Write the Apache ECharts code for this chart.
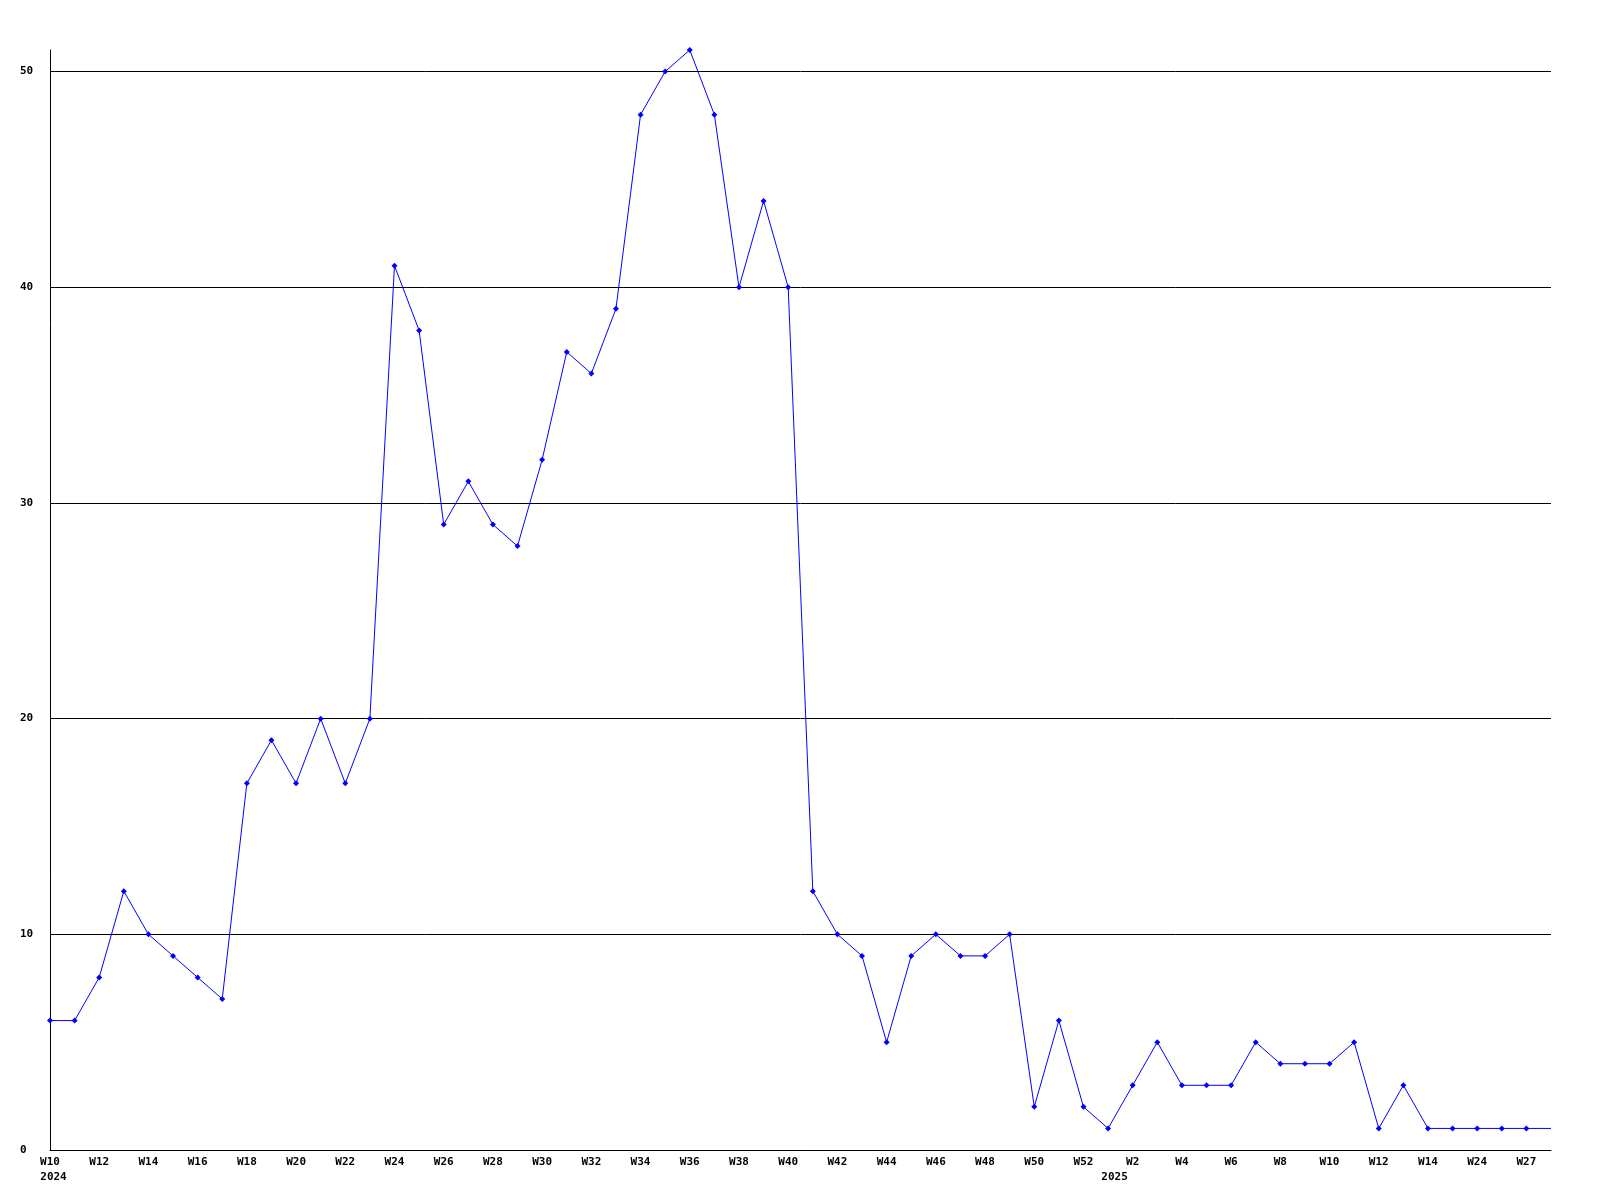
<!DOCTYPE html>
<html>
<head>
<meta charset="utf-8">
<script src="https://cdn.jsdelivr.net/npm/echarts@6/dist/echarts.min.js"></script>
<style>html,body{margin:0;padding:0;background:#fff}#c{width:1600px;height:1200px}</style>
</head>
<body>
<div id="c"></div>
<script>
const weeks = [
  'W10','W11','W12','W13','W14','W15','W16','W17','W18','W19','W20','W21','W22','W23','W24','W25',
  'W26','W27','W28','W29','W30','W31','W32','W33','W34','W35','W36','W37','W38','W39','W40','W41',
  'W42','W43','W44','W45','W46','W47','W48','W49','W50','W51','W52',
  'W1','W2','W3','W4','W5','W6','W7','W8','W9','W10','W11','W12','W13','W14',
  'W15','W24','W25','W27','W28'
];
const years = {0: '2024', 43: '2025'};
const values = [
  6,6,8,12,10,9,8,7,17,19,17,20,17,20,41,38,
  29,31,29,28,32,37,36,39,48,50,51,48,40,44,40,12,
  10,9,5,9,10,9,9,10,2,6,2,
  1,3,5,3,3,3,5,4,4,4,5,1,3,1,
  1,1,1,1,1
];
const yTicks = [0,10,20,30,40,50];

const seriesData = values.map((v, i) => i === values.length - 1 ? {value: v, symbol: 'none'} : v);
const font = '"DejaVu Sans Mono", monospace';

const chart = echarts.init(document.getElementById('c'));
chart.setOption({
  animation: false,
  backgroundColor: '#fff',
  grid: {left: 50, right: 49, top: 50, bottom: 50, containLabel: false},
  xAxis: {
    type: 'category',
    data: weeks,
    boundaryGap: false,
    axisLine: {show: true, lineStyle: {color: '#000', width: 1}},
    axisTick: {show: false},
    splitLine: {show: false},
    axisLabel: {
      interval: 0,
      margin: 5,
      color: '#000',
      fontFamily: font,
      fontWeight: 'bold',
      fontSize: 11,
      lineHeight: 15,
      formatter: function (val, idx) {
        const showWeek = idx % 2 === 0;
        const y = years[idx];
        if (!showWeek && !y) return '';
        if (!y) return '{w|' + val + '}';
        const wk = showWeek ? '{w|' + val + '}' : '{h|' + val + '}';
        const sty = val.length === 3 ? 'y3' : 'y2';
        return wk + '\n{' + sty + '|' + y + '}';
      },
      rich: {
        w: {fontFamily: font, fontWeight: 'bold', fontSize: 11, color: '#000', lineHeight: 15, align: 'center'},
        h: {fontFamily: font, fontWeight: 'bold', fontSize: 11, color: 'rgba(0,0,0,0)', lineHeight: 15, align: 'center'},
        y3: {fontFamily: font, fontWeight: 'bold', fontSize: 11, color: '#000', lineHeight: 15, align: 'left', padding: [0, 0, 0, 7]},
        y2: {fontFamily: font, fontWeight: 'bold', fontSize: 11, color: '#000', lineHeight: 15, align: 'left', padding: [0, 0, 0, 13]}
      }
    }
  },
  yAxis: {
    type: 'value',
    min: 0,
    max: 51,
    interval: 10,
    axisLine: {show: true, lineStyle: {color: '#000', width: 1}},
    axisTick: {show: false, customValues: yTicks},
    splitLine: {show: true, lineStyle: {color: '#000', width: 1}},
    axisLabel: {
      customValues: yTicks,
      margin: 30,
      align: 'left',
      color: '#000',
      fontFamily: font,
      fontWeight: 'bold',
      fontSize: 11,
      formatter: function (v) { return String(v); }
    }
  },
  series: [{
    type: 'line',
    data: seriesData,
    symbol: 'diamond',
    symbolSize: 6,
    showAllSymbol: true,
    lineStyle: {color: '#0000ff', width: 1},
    itemStyle: {color: '#0000ff'}
  }]
});
</script>
</body>
</html>
